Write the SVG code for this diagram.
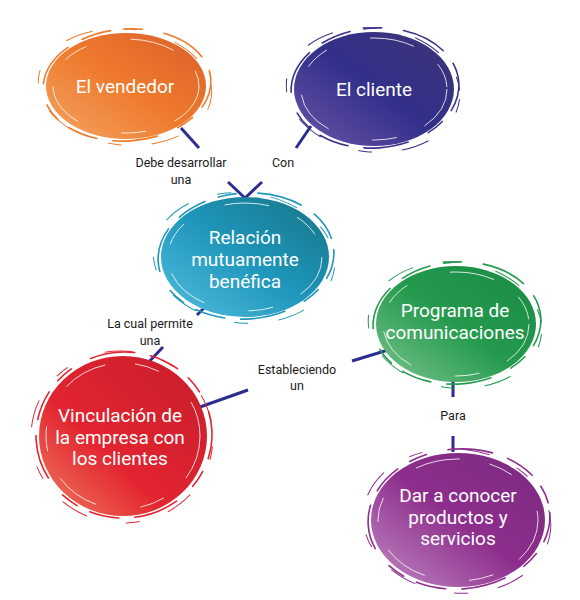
<svg xmlns="http://www.w3.org/2000/svg" width="580" height="600" viewBox="0 0 580 600">
<defs>
<linearGradient id="gO" x1="0" y1="1" x2="1" y2="0"><stop offset="0" stop-color="#f5a464"/><stop offset="0.5" stop-color="#ee7a2c"/><stop offset="1" stop-color="#d9602a"/></linearGradient>
<linearGradient id="gI" x1="0" y1="1" x2="1" y2="0"><stop offset="0" stop-color="#6a55a8"/><stop offset="0.5" stop-color="#33308a"/><stop offset="1" stop-color="#3c3478"/></linearGradient>
<linearGradient id="gT" x1="0" y1="1" x2="1" y2="0"><stop offset="0" stop-color="#52bedf"/><stop offset="0.5" stop-color="#1f96bb"/><stop offset="1" stop-color="#157485"/></linearGradient>
<linearGradient id="gG" x1="0" y1="1" x2="1" y2="0"><stop offset="0" stop-color="#7cc48e"/><stop offset="0.5" stop-color="#249a4e"/><stop offset="1" stop-color="#1a8a44"/></linearGradient>
<linearGradient id="gR" x1="0" y1="1" x2="1" y2="0"><stop offset="0" stop-color="#f08060"/><stop offset="0.4" stop-color="#e22430"/><stop offset="1" stop-color="#c81e2c"/></linearGradient>
<linearGradient id="gP" x1="0" y1="1" x2="1" y2="0"><stop offset="0" stop-color="#c08cc4"/><stop offset="0.5" stop-color="#8e2e8c"/><stop offset="1" stop-color="#7a2a80"/></linearGradient>
</defs>
<style>
.rough{fill:none;stroke-width:1.6;stroke-dasharray:30 14 18 22 45 16;stroke-linecap:round}
.rough2{fill:none;stroke-width:1;stroke-dasharray:14 40 28 30}
.inner{fill:none;stroke:#ffffff;stroke-width:1;stroke-dasharray:45 30 25 45;opacity:0.8}
.nt{font-family:Roboto,"Liberation Sans",sans-serif;font-size:19px;fill:#ffffff;text-anchor:middle}
.lb{font-family:Roboto,"Liberation Sans",sans-serif;font-size:12.5px;fill:#1a1a1a;text-anchor:middle}
.cn{stroke:#2b2d8f;stroke-width:3;fill:none}
</style>
<rect width="580" height="600" fill="#ffffff"/>
<g id="connectors">
<line class="cn" x1="181" y1="128" x2="199" y2="148"/>
<line class="cn" x1="311" y1="126" x2="296" y2="148"/>
<polyline class="cn" points="228,182 245,198 262,182"/>
<line class="cn" x1="197" y1="315" x2="205" y2="307"/>
<line class="cn" x1="163" y1="347" x2="146" y2="365"/>
<line class="cn" x1="200" y1="407" x2="248" y2="390"/>
<line class="cn" x1="352" y1="361" x2="388" y2="350"/>
<line class="cn" x1="453" y1="378" x2="453" y2="397"/>
<line class="cn" x1="453" y1="436" x2="453" y2="452"/>
<text class="lb" x="181" y="167">Debe desarrollar</text>
<text class="lb" x="181" y="184">una</text>
<text class="lb" x="283" y="167">Con</text>
<text class="lb" x="150" y="328">La cual permite</text>
<text class="lb" x="150" y="345">una</text>
<text class="lb" x="297" y="374">Estableciendo</text>
<text class="lb" x="297" y="390">un</text>
<text class="lb" x="453" y="420">Para</text>
</g>
<g id="n-vendedor">
<ellipse cx="126" cy="86" rx="80" ry="53" fill="url(#gO)"/>
<ellipse class="rough" cx="127" cy="85" rx="84" ry="56" stroke="#ee7a2c" transform="rotate(-4 127 85)"/>
<ellipse class="rough2" cx="125" cy="87" rx="87" ry="58" stroke="#ee7a2c" transform="rotate(6 125 87)"/>
<ellipse class="inner" cx="126" cy="86" rx="73" ry="47"/>
<text class="nt" x="125" y="93">El vendedor</text>
</g>
<g id="n-cliente">
<ellipse cx="374" cy="89" rx="80" ry="57" fill="url(#gI)"/>
<ellipse class="rough" cx="375" cy="88" rx="84" ry="60" stroke="#3a3288" transform="rotate(-4 375 88)"/>
<ellipse class="rough2" cx="373" cy="90" rx="87" ry="62" stroke="#3a3288" transform="rotate(6 373 90)"/>
<ellipse class="inner" cx="374" cy="89" rx="73" ry="51"/>
<text class="nt" x="374" y="96">El cliente</text>
</g>
<g id="n-relacion">
<ellipse cx="245" cy="257" rx="84" ry="60" fill="url(#gT)"/>
<ellipse class="rough" cx="246" cy="256" rx="88" ry="63" stroke="#1f96bb" transform="rotate(-4 246 256)"/>
<ellipse class="rough2" cx="244" cy="258" rx="91" ry="65" stroke="#1f96bb" transform="rotate(6 244 258)"/>
<ellipse class="inner" cx="245" cy="257" rx="77" ry="54"/>
<text class="nt" x="245" y="244">Relación</text>
<text class="nt" x="245" y="266">mutuamente</text>
<text class="nt" x="245" y="288">benéfica</text>
</g>
<g id="n-programa">
<ellipse cx="456" cy="324" rx="80" ry="58" fill="url(#gG)"/>
<ellipse class="rough" cx="457" cy="323" rx="84" ry="61" stroke="#249a4e" transform="rotate(-4 457 323)"/>
<ellipse class="rough2" cx="455" cy="325" rx="87" ry="63" stroke="#249a4e" transform="rotate(6 455 325)"/>
<ellipse class="inner" cx="456" cy="324" rx="73" ry="52"/>
<text class="nt" x="455" y="317">Programa de</text>
<text class="nt" x="455" y="339">comunicaciones</text>
</g>
<g id="n-vinculacion">
<ellipse cx="123" cy="436" rx="84" ry="80" fill="url(#gR)"/>
<ellipse class="rough" cx="124" cy="435" rx="88" ry="83" stroke="#e22430" transform="rotate(-4 124 435)"/>
<ellipse class="rough2" cx="122" cy="437" rx="91" ry="86" stroke="#e22430" transform="rotate(6 122 437)"/>
<ellipse class="inner" cx="123" cy="436" rx="77" ry="73"/>
<text class="nt" x="120" y="422">Vinculación de</text>
<text class="nt" x="120" y="444">la empresa con</text>
<text class="nt" x="120" y="465">los clientes</text>
</g>
<g id="n-dar">
<ellipse cx="458" cy="520" rx="87" ry="67" fill="url(#gP)"/>
<ellipse class="rough" cx="459" cy="519" rx="91" ry="70" stroke="#8e2e8c" transform="rotate(-4 459 519)"/>
<ellipse class="rough2" cx="457" cy="521" rx="94" ry="72" stroke="#8e2e8c" transform="rotate(6 457 521)"/>
<ellipse class="inner" cx="458" cy="520" rx="80" ry="61"/>
<text class="nt" x="458" y="502">Dar a conocer</text>
<text class="nt" x="458" y="524">productos y</text>
<text class="nt" x="458" y="545">servicios</text>
</g>
</svg>
